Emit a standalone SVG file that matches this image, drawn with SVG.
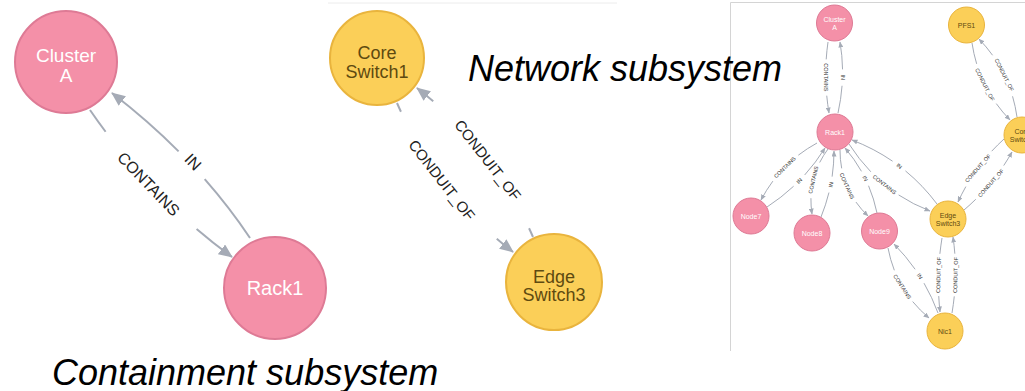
<svg xmlns="http://www.w3.org/2000/svg" width="1025" height="391" viewBox="0 0 1025 391">
  <style>
    text { font-family: "Liberation Sans", Arial, Helvetica, sans-serif; }
    .pink { fill: #F490A8; stroke: #DE7A95; }
    .gold { fill: #FBCF58; stroke: #E9B43D; }
    .big { stroke-width: 2; }
    .tiny { stroke-width: 1; }
    .t-pink { fill: #ffffff; text-anchor: middle; }
    .t-gold { fill: #5E4A10; text-anchor: middle; }
    .rel { fill: none; stroke: #A5ABB6; }
    .rel-l { stroke-width: 2; marker-end: url(#arrL); }
    .rel-s { stroke-width: 1; marker-end: url(#arrS); }
    .lbl { fill: #222222; text-anchor: middle; dominant-baseline: central; }
    .lbl-l { font-size: 16px; }
    .lbl-m { font-size: 15px; }
    .lbl-s { font-size: 5.5px; fill: #333333; }
    .title { font-size: 36px; font-style: italic; fill: #000000; }
    .frame { stroke: #D4D4D4; stroke-width: 1; fill: none; }
  </style>
  <defs>
    <marker id="arrL" markerUnits="userSpaceOnUse" viewBox="0 0 14 12" markerWidth="14" markerHeight="12" refX="13" refY="6" orient="auto">
      <path d="M0,0 L14,6 L0,12 z" fill="#A5ABB6"/>
    </marker>
    <marker id="arrS" markerUnits="userSpaceOnUse" viewBox="0 0 6 5" markerWidth="6" markerHeight="5" refX="5.5" refY="2.5" orient="auto">
      <path d="M0,0 L6,2.5 L0,5 z" fill="#A5ABB6"/>
    </marker>
  </defs>

  <rect width="1025" height="391" fill="#ffffff"/>

  <!-- frames of the screenshot panels -->
  <line x1="328" y1="3" x2="617" y2="3" stroke="#ECECEC" stroke-width="1"/>
  <path class="frame" d="M730.5,351 V2.5 H1025"/>

  <!-- connectors -->
  <g id="connectors">
    <!-- containment pair -->
    <path class="rel rel-l" d="M90,110 Q149,196 232,257" pathLength="100" stroke-dasharray="13 65 100"/>
    <path class="rel rel-l" d="M250,238 Q196,157.5 112,93" pathLength="100" stroke-dasharray="37 19 100"/>
    <text class="lbl lbl-l" transform="translate(148.5,184) rotate(46)">CONTAINS</text>
    <text class="lbl lbl-l" transform="translate(193,162) rotate(46)">IN</text>

    <!-- network pair -->
    <path class="rel rel-l" d="M397,103 Q436,192 513,252" pathLength="100" stroke-dasharray="5 84 100"/>
    <path class="rel rel-l" d="M533,237 Q494,148 417,88" pathLength="100" stroke-dasharray="5 84 100"/>
    <text class="lbl lbl-m" transform="translate(442,180) rotate(52)">CONDUIT_OF</text>
    <text class="lbl lbl-m" transform="translate(488,160) rotate(52)">CONDUIT_OF</text>

    <!-- full graph -->
    <path class="rel rel-s" d="M828,42 Q823,77 829,113" pathLength="100" stroke-dasharray="24.5 51 100"/>
    <text class="lbl lbl-s" transform="translate(825.8,77.3) rotate(90)">CONTAINS</text>
    <path class="rel rel-s" d="M838,113 Q846,77 840,42" pathLength="100" stroke-dasharray="38.5 23 100"/>
    <text class="lbl lbl-s" transform="translate(842.5,77.3) rotate(90)">IN</text>

    <path class="rel rel-s" d="M817,143 Q780.5,163 761,200" pathLength="100" stroke-dasharray="27.5 45 100"/>
    <text class="lbl lbl-s" transform="translate(784.8,167.3) rotate(-45)">CONTAINS</text>
    <path class="rel rel-s" d="M767,207 Q802.5,184 825,148" pathLength="100" stroke-dasharray="40.5 19 100"/>
    <text class="lbl lbl-s" transform="translate(799.3,180.8) rotate(-45)">IN</text>

    <path class="rel rel-s" d="M828,149 Q806.6,178 812,214" pathLength="100" stroke-dasharray="23 54 100"/>
    <text class="lbl lbl-s" transform="translate(813.3,179.8) rotate(-77)">CONTAINS</text>
    <path class="rel rel-s" d="M821,217 Q834,185 834,151" pathLength="100" stroke-dasharray="38 24 100"/>
    <text class="lbl lbl-s" transform="translate(830.8,184.5) rotate(-77)">IN</text>

    <path class="rel rel-s" d="M840,150 Q840,189 868,216" pathLength="100" stroke-dasharray="25 50 100"/>
    <text class="lbl lbl-s" transform="translate(847,186) rotate(66)">CONTAINS</text>
    <path class="rel rel-s" d="M877,213 Q869.4,176.3 845,148" pathLength="100" stroke-dasharray="39 22 100"/>
    <text class="lbl lbl-s" transform="translate(865.2,178.4) rotate(66)">IN</text>

    <path class="rel rel-s" d="M937,204 Q904,160 852,140" pathLength="100" stroke-dasharray="42.5 15 100"/>
    <text class="lbl lbl-s" transform="translate(899.3,166) rotate(37.6)">IN</text>
    <path class="rel rel-s" d="M849,144 Q879.5,191.5 930,211" pathLength="100" stroke-dasharray="33 34 100"/>
    <text class="lbl lbl-s" transform="translate(884.5,184.5) rotate(37.6)">CONTAINS</text>

    <path class="rel rel-s" d="M972,43 Q978.7,87.7 1010,120" pathLength="100" stroke-dasharray="24.5 51 100"/>
    <text class="lbl lbl-s" transform="translate(984.9,84.6) rotate(63.2)">CONDUIT_OF</text>
    <path class="rel rel-s" d="M1017,117 Q1010.6,71.8 979,39" pathLength="100" stroke-dasharray="24 52 100"/>
    <text class="lbl lbl-s" transform="translate(1004.3,74.9) rotate(63.2)">CONDUIT_OF</text>

    <path class="rel rel-s" d="M1004,139 Q974.5,165.8 958,202" pathLength="100" stroke-dasharray="22 56 100"/>
    <text class="lbl lbl-s" transform="translate(977.8,168.2) rotate(-48.6)">CONDUIT_OF</text>
    <path class="rel rel-s" d="M964,210 Q993.5,185 1012,152" pathLength="100" stroke-dasharray="21 58 100"/>
    <text class="lbl lbl-s" transform="translate(990.8,183) rotate(-48.6)">CONDUIT_OF</text>

    <path class="rel rel-s" d="M942,238 Q936,275 940,312" pathLength="100" stroke-dasharray="21.5 57 100"/>
    <text class="lbl lbl-s" transform="translate(938.5,275) rotate(-88.5)">CONDUIT_OF</text>
    <path class="rel rel-s" d="M952,313 Q958.5,275 953,237" pathLength="100" stroke-dasharray="22 56 100"/>
    <text class="lbl lbl-s" transform="translate(955.5,275) rotate(-88.5)">CONDUIT_OF</text>

    <path class="rel rel-s" d="M888,248 Q896,290.3 929,318" pathLength="100" stroke-dasharray="28 44 100"/>
    <text class="lbl lbl-s" transform="translate(902.3,286.7) rotate(56.8)">CONTAINS</text>
    <path class="rel rel-s" d="M938,313 Q923.6,274 894,244" pathLength="100" stroke-dasharray="40 20 100"/>
    <text class="lbl lbl-s" transform="translate(919.8,276.3) rotate(56.8)">IN</text>
  </g>

  <!-- containment subsystem nodes -->
  <g id="node-cluster-a">
    <circle class="pink big" cx="66" cy="62" r="51"/>
    <text class="t-pink" x="66" y="62" font-size="19">Cluster</text>
    <text class="t-pink" x="66" y="82" font-size="19">A</text>
  </g>
  <g id="node-rack1">
    <circle class="pink big" cx="275" cy="288" r="51"/>
    <text class="t-pink" x="275" y="295" font-size="20">Rack1</text>
  </g>

  <!-- network subsystem nodes -->
  <g id="node-core-switch1">
    <circle class="gold big" cx="377" cy="58" r="47"/>
    <text class="t-gold" x="377" y="59" font-size="18">Core</text>
    <text class="t-gold" x="377" y="78" font-size="18">Switch1</text>
  </g>
  <g id="node-edge-switch3">
    <circle class="gold big" cx="554" cy="282" r="48"/>
    <text class="t-gold" x="554" y="283" font-size="18">Edge</text>
    <text class="t-gold" x="554" y="301" font-size="18">Switch3</text>
  </g>

  <!-- full graph nodes -->
  <g id="g-cluster-a">
    <circle class="pink tiny" cx="834.5" cy="23" r="18"/>
    <text class="t-pink" x="834.5" y="22" font-size="7">Cluster</text>
    <text class="t-pink" x="834.5" y="30" font-size="7">A</text>
  </g>
  <g id="g-rack1">
    <circle class="pink tiny" cx="835" cy="132" r="18"/>
    <text class="t-pink" x="835" y="134.5" font-size="7">Rack1</text>
  </g>
  <g id="g-node7">
    <circle class="pink tiny" cx="751" cy="216" r="18"/>
    <text class="t-pink" x="751" y="218.5" font-size="7">Node7</text>
  </g>
  <g id="g-node8">
    <circle class="pink tiny" cx="812" cy="233" r="18"/>
    <text class="t-pink" x="812" y="235.5" font-size="7">Node8</text>
  </g>
  <g id="g-node9">
    <circle class="pink tiny" cx="879.5" cy="231" r="18"/>
    <text class="t-pink" x="879.5" y="233.5" font-size="7">Node9</text>
  </g>
  <g id="g-pfs1">
    <circle class="gold tiny" cx="966.5" cy="25" r="18"/>
    <text class="t-gold" x="966.5" y="27.5" font-size="7">PFS1</text>
  </g>
  <g id="g-core-switch1">
    <circle class="gold tiny" cx="1022" cy="135" r="18"/>
    <text class="t-gold" x="1022" y="134" font-size="7">Core</text>
    <text class="t-gold" x="1022" y="142" font-size="7">Switch1</text>
  </g>
  <g id="g-edge-switch3">
    <circle class="gold tiny" cx="948" cy="219" r="18"/>
    <text class="t-gold" x="948" y="218" font-size="7">Edge</text>
    <text class="t-gold" x="948" y="226" font-size="7">Switch3</text>
  </g>
  <g id="g-nic1">
    <circle class="gold tiny" cx="945" cy="331" r="18"/>
    <text class="t-gold" x="945" y="333.5" font-size="7">Nic1</text>
  </g>

  <!-- captions -->
  <text class="title" x="468" y="81">Network subsystem</text>
  <text class="title" x="52" y="385" font-size="37">Containment subsystem</text>
</svg>
